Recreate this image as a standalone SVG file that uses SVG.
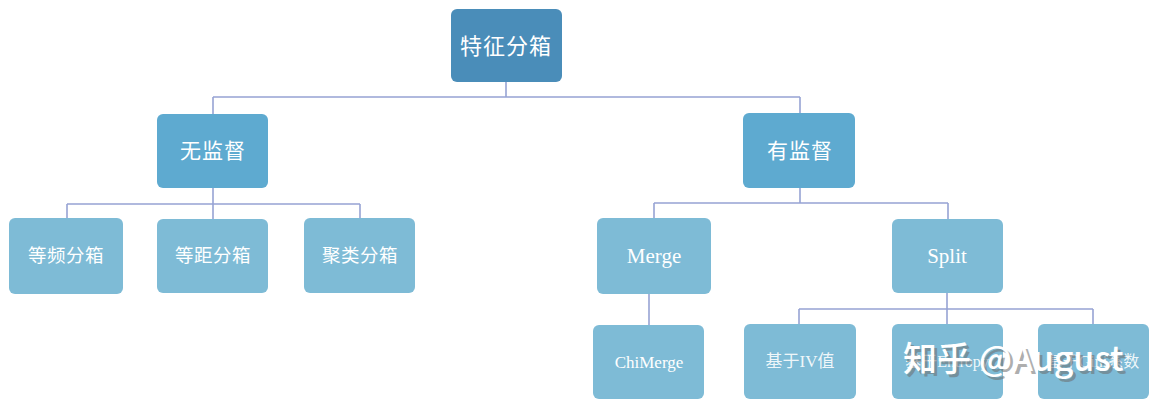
<svg xmlns="http://www.w3.org/2000/svg" width="1162" height="416" viewBox="0 0 1162 416">
<style>
.l0{fill:#4a8db9}
.l1{fill:#5eaad0}
.l2{fill:#7ebbd6}
.t{font-family:"Liberation Serif","Noto Sans CJK SC",serif;fill:#ffffff;text-anchor:middle;dominant-baseline:central}
.c{fill:none;stroke:#97a3d4;stroke-width:1.6}
.wm{font-family:"Noto Sans CJK SC","Noto Sans",sans-serif;font-weight:500;font-size:34px}
</style>
<rect width="1162" height="416" fill="#ffffff"/>
<g id="connectors">
<path class="c" d="M506 82V97M213 97H800M213 97V114M800 97V113"/>
<path class="c" d="M213 188V204M67 204H360M67 204V218M213 204V219M360 204V218"/>
<path class="c" d="M800 188V203M654 203H948M654 203V218M948 203V219"/>
<path class="c" d="M649 294V325"/>
<path class="c" d="M947 293V309M799 309H1093M799 309V324M947 309V324M1093 309V324"/>
</g>
<g id="root"><rect class="l0" x="451" y="9" width="111" height="73" rx="6"/><text class="t" x="506" y="46" font-size="22" letter-spacing="1">特征分箱</text></g>
<g id="unsupervised"><rect class="l1" x="157" y="114" width="111" height="74" rx="6"/><text class="t" x="213" y="151" font-size="21" letter-spacing="1">无监督</text></g>
<g id="supervised"><rect class="l1" x="743" y="113" width="112" height="75" rx="6"/><text class="t" x="800" y="151" font-size="21" letter-spacing="1">有监督</text></g>
<g id="equal-freq"><rect class="l2" x="9" y="218" width="114" height="76" rx="6"/><text class="t" x="66" y="256" font-size="18.5" letter-spacing="0.5">等频分箱</text></g>
<g id="equal-dist"><rect class="l2" x="157" y="219" width="111" height="74" rx="6"/><text class="t" x="213" y="256" font-size="18.5" letter-spacing="0.5">等距分箱</text></g>
<g id="cluster"><rect class="l2" x="304" y="218" width="111" height="75" rx="6"/><text class="t" x="360" y="256" font-size="18.5" letter-spacing="0.5">聚类分箱</text></g>
<g id="merge"><rect class="l2" x="597" y="218" width="114" height="76" rx="6"/><text class="t" x="654" y="256" font-size="21">Merge</text></g>
<g id="split"><rect class="l2" x="892" y="219" width="111" height="74" rx="6"/><text class="t" x="947" y="256" font-size="21">Split</text></g>
<g id="chimerge"><rect class="l2" x="593" y="325" width="111" height="74" rx="6"/><text class="t" x="649" y="362" font-size="17">ChiMerge</text></g>
<g id="iv"><rect class="l2" x="744" y="324" width="112" height="75" rx="6"/><text class="t" x="800" y="361" font-size="17" fill-opacity="0.9">基于IV值</text></g>
<g id="entropy"><rect class="l2" x="892" y="324" width="111" height="75" rx="6"/><text class="t" x="947" y="361" font-size="16" fill-opacity="0.9">基于Entropy</text></g>
<g id="gini"><rect class="l2" x="1038" y="324" width="111" height="75" rx="6"/><text class="t" x="1093" y="361" font-size="16" fill-opacity="0.9">基于Gini系数</text></g>
<g id="watermark">
<text class="wm" x="906" y="374" fill="#6d6d6d" opacity="0.55">知乎 @August</text>
<text class="wm" x="903" y="371" fill="#ffffff">知乎 @August</text>
</g>
</svg>
